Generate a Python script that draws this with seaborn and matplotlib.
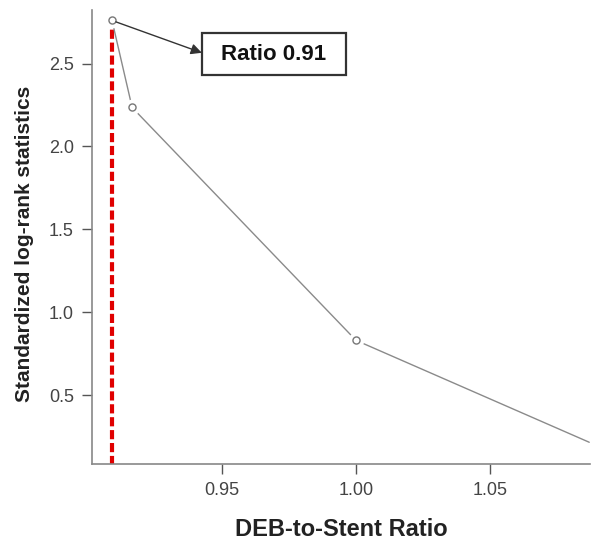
import matplotlib
matplotlib.use("Agg")
import matplotlib.pyplot as plt
from matplotlib.patches import Rectangle
import seaborn as sns
import pandas as pd

ratio = [0.909, 0.9165, 1.00, 1.087]
stat = [2.76, 2.235, 0.83, 0.215]
marked = [True, True, True, False]
cut_ratio = 0.909
cut_stat = 2.76
xticks = [0.95, 1.00, 1.05]
yticks = [0.5, 1.0, 1.5, 2.0, 2.5]

sns.set_style("white")
plt.rcParams['font.family'] = ['Liberation Sans', 'DejaVu Sans']

df = pd.DataFrame({"ratio": ratio, "stat": stat, "marked": marked})
fig = plt.figure(figsize=(5.93, 5.54), dpi=100)
ax = fig.add_axes([0.155, 0.1625, 0.84, 0.82])

sns.lineplot(data=df, x="ratio", y="stat", ax=ax, color="#8a8a8a", lw=1.0,
             sort=False, zorder=2)
mk = df[df["marked"]]
ax.scatter(mk["ratio"], mk["stat"], s=130, color="white", zorder=3, lw=0)
ax.scatter(mk["ratio"], mk["stat"], s=26, facecolor="white", edgecolor="#777777",
           lw=1.0, zorder=4)

ax.plot([cut_ratio, cut_ratio], [0.0, cut_stat], color="#e00000", lw=3,
        ls=(0, (2.2, 0.9)), zorder=1.5)

# label box
ax.add_patch(Rectangle((0.9425, 2.433), 0.0538, 0.253, fc="white",
                       ec="#333333", lw=1.6, zorder=5))
ax.text(0.9694, 2.552, "Ratio 0.91", fontsize=16, fontweight="bold",
        ha="center", va="center", color="#111111", zorder=6)
# arrow from cut point to box
ax.annotate("", xy=(0.9425, 2.565), xytext=(cut_ratio, cut_stat),
            arrowprops=dict(arrowstyle="-|>", color="#333333", lw=1.0,
                            mutation_scale=16, shrinkA=3, shrinkB=0),
            zorder=6)

ax.set_xlim(0.9015, 1.0873)
ax.set_ylim(0.084, 2.825)
ax.set_xticks(xticks)
ax.set_xticklabels([f"{v:.2f}" for v in xticks])
ax.set_yticks(yticks)
ax.set_yticklabels([f"{v:.1f}" for v in yticks])
ax.tick_params(axis="both", colors="#555555", labelsize=13, length=7, width=1,
               direction="out", left=True, bottom=True, pad=6)
for t in ax.get_xticklabels() + ax.get_yticklabels():
    t.set_color("#444444")
for s in ["top", "right"]:
    ax.spines[s].set_visible(False)
for s in ["left", "bottom"]:
    ax.spines[s].set_color("#888888")
    ax.spines[s].set_linewidth(1.2)

ax.set_xlabel("DEB-to-Stent Ratio", fontsize=17, fontweight="bold",
              color="#222222", labelpad=14)
ax.set_ylabel("Standardized log-rank statistics", fontsize=15, fontweight="bold",
              color="#222222", va="center")
ax.yaxis.set_label_coords(-0.1345, 0.4846)

fig.savefig("out.png", dpi=100)
